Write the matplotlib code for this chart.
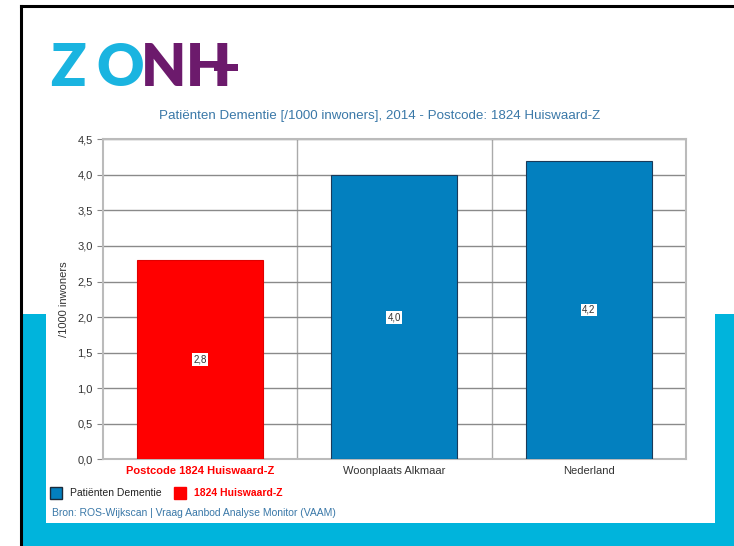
import matplotlib
matplotlib.use("Agg")
import matplotlib.pyplot as plt
from matplotlib.patches import Rectangle
from matplotlib.lines import Line2D

plt.rcParams['font.family'] = ['Liberation Sans', 'DejaVu Sans']

categories = ["Postcode 1824 Huiswaard-Z", "Woonplaats Alkmaar", "Nederland"]
values = [2.8, 4.0, 4.2]
value_labels = ["2,8", "4,0", "4,2"]
bar_colors = ["#ff0000", "#0380bf", "#0380bf"]
edge_colors = ["#e00000", "#1a3a5a", "#1a3a5a"]
yticks = [0.0, 0.5, 1.0, 1.5, 2.0, 2.5, 3.0, 3.5, 4.0, 4.5]
ytick_labels = ["0,0", "0,5", "1,0", "1,5", "2,0", "2,5", "3,0", "3,5", "4,0", "4,5"]
title = "Patiënten Dementie [/1000 inwoners], 2014 - Postcode: 1824 Huiswaard-Z"
ylabel = "/1000 inwoners"
legend_labels = ["Patiënten Dementie", "1824 Huiswaard-Z"]
source = "Bron: ROS-Wijkscan | Vraag Aanbod Analyse Monitor (VAAM)"

W, H = 734, 546
fig = plt.figure(figsize=(W / 100, H / 100), dpi=100)
fig.patch.set_facecolor("white")

def px(x, y):
    return x / W, 1 - y / H

def rect(x0, y0, x1, y1, color, z=0):
    fx0, fy1 = px(x0, y0)
    fx1, fy0 = px(x1, y1)
    fig.patches.append(Rectangle((fx0, fy0), fx1 - fx0, fy1 - fy0,
                                 transform=fig.transFigure, color=color,
                                 zorder=z, lw=0))

cyan = "#00b4dc"
# background screenshot decoration
rect(22, 314, 46, 546, cyan)
rect(715, 314, 734, 546, cyan)
rect(22, 523, 734, 546, cyan)
# black frame
fig.lines.append(Line2D([px(21, 0)[0]] * 2, [px(0, 6)[1], px(0, 546)[1]],
                        transform=fig.transFigure, color="black", lw=2.2))
fig.lines.append(Line2D([px(21, 0)[0], 1.0], [px(0, 6)[1]] * 2,
                        transform=fig.transFigure, color="black", lw=2.2))

# logo
logo_fs = 42
logo_letters = [("Z", 50, "#1ab4e0"), ("O", 96, "#1ab4e0"),
                ("N", 141, "#6c1a6c"), ("H", 186, "#6c1a6c")]
for ch, lx, col in logo_letters:
    fig.text(*px(lx, 69), ch, color=col, fontsize=logo_fs, fontweight="heavy",
             va="center", ha="left", family=["Lato", "DejaVu Sans"])
# extended crossbar of the H
rect(214, 64, 238, 71, "#6c1a6c", z=1)

# title
fig.text(*px(380, 116), title, color="#3a78a8", fontsize=9.6, ha="center", va="center")

# axes
l, t = px(102.5, 139.3)
r, b = px(686, 459.3)
ax = fig.add_axes([l, b, r - l, t - b])
x = list(range(len(categories)))
ax.bar(x, values, width=0.65, color=bar_colors, edgecolor=edge_colors, linewidth=0.8, zorder=3)
ax.set_xlim(-0.5, len(categories) - 0.5)
ax.set_ylim(0, 4.5)
ax.set_yticks(yticks)
ax.set_yticklabels(ytick_labels, fontsize=8, color="#333333")
ax.set_xticks(x)
ax.set_xticklabels(categories, fontsize=8, color="#333333")
lbls = ax.get_xticklabels()
lbls[0].set_color("#ff0000")
lbls[0].set_fontweight("bold")
ax.tick_params(axis="x", length=0, pad=5)
ax.tick_params(axis="y", length=4, color="#888888", pad=3)
ax.yaxis.grid(True, color="#8a8a8a", lw=1, zorder=0)
for xb in [0.5, 1.5]:
    ax.axvline(xb, color="#aaaaaa", lw=1, zorder=0)
for s in ax.spines.values():
    s.set_color("#bbbbbb")
    s.set_linewidth(1.5)
ax.set_ylabel(ylabel, fontsize=8, color="#333333", labelpad=6)

for xi, v, lab in zip(x, values, value_labels):
    ax.text(xi, v / 2, lab, ha="center", va="center", fontsize=7, color="#333333",
            bbox=dict(boxstyle="square,pad=0.15", fc="white", ec="none"), zorder=5)

# legend
def sq(x0, y0, color, ec):
    fx0, fy1 = px(x0, y0)
    fx1, fy0 = px(x0 + 12, y0 + 12)
    fig.patches.append(Rectangle((fx0, fy0), fx1 - fx0, fy1 - fy0,
                                 transform=fig.transFigure, facecolor=color,
                                 edgecolor=ec, lw=1, zorder=2))

sq(50, 487, bar_colors[1], "#1a2a3a")
fig.text(*px(70, 493), legend_labels[0], fontsize=7.5, color="#222222", va="center", ha="left")
sq(174, 487, "#ff0000", "#ff0000")
fig.text(*px(194, 493), legend_labels[1], fontsize=7.5, color="#ff0000", fontweight="bold",
         va="center", ha="left")

fig.text(*px(52, 513), source, fontsize=7.5, color="#3a78a8", va="center", ha="left")

fig.savefig("out.png", dpi=100)
